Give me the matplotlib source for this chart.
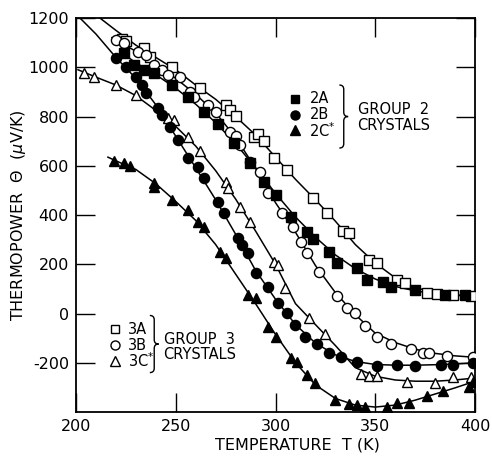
import numpy as np
import matplotlib
matplotlib.use("Agg")
import matplotlib.pyplot as plt
from matplotlib.path import Path
from matplotlib.patches import PathPatch

plt.rcParams['font.family'] = ['DejaVu Sans']

# measured points, temperature (K) and thermopower (uV/K)
t_2a = [224, 229, 234, 239, 248, 256, 264, 271, 279, 287, 294, 300, 308, 316, 319,
        327, 331, 341, 346, 354, 358, 370, 385, 395]
v_2a = [1058, 1010, 990, 978, 928, 879, 818, 770, 692, 611, 534, 481, 392, 331, 302,
        250, 205, 185, 136, 128, 108, 95, 75, 75]

t_2b = [220, 225, 230, 233, 235, 241, 243, 247, 251, 256, 261, 264, 271, 274, 281, 283,
        286, 290, 296, 301, 306, 310, 315, 321, 327, 333, 341, 351, 361, 370, 383, 389, 399]
v_2b = [1037, 1001, 960, 928, 895, 834, 806, 757, 705, 631, 595, 550, 453, 408, 307, 278,
        246, 164, 108, 43, 2, -47, -95, -124, -160, -177, -197, -213, -209, -213, -209, -209, -201]

t_2c = [219, 224, 227, 239, 239, 248, 256, 261, 264, 272, 275, 286, 290, 296, 300, 308,
        311, 316, 320, 330, 337, 341, 345, 356, 361, 367, 376, 384, 397, 399]
v_2c = [620, 613, 601, 532, 514, 461, 420, 372, 351, 250, 225, 75, 63, -55, -95, -181,
        -197, -250, -282, -352, -368, -372, -380, -380, -364, -364, -335, -315, -299, -278]

t_3a = [223, 225, 234, 237, 248, 262, 275, 277, 280, 289, 291, 294, 299, 306, 319, 326,
        334, 337, 347, 351, 361, 365, 376, 381, 389, 398]
v_3a = [1115, 1105, 1078, 1042, 1001, 916, 847, 826, 802, 717, 729, 700, 632, 583, 469, 408,
        335, 327, 217, 205, 136, 124, 83, 79, 75, 71]

t_3b = [220, 224, 231, 235, 239, 243, 246, 252, 257, 259, 266, 270, 277, 280, 282, 287,
        292, 296, 303, 309, 313, 316, 322, 331, 336, 340, 345, 351, 358, 368, 374, 377, 386, 399]
v_3b = [1110, 1097, 1062, 1050, 1009, 989, 968, 960, 900, 879, 847, 818, 737, 721, 684, 615,
        575, 489, 408, 351, 290, 245, 168, 72, 22, 2, -51, -95, -124, -144, -160, -160, -173, -177]

t_3c = [204, 209, 220, 230, 246, 249, 256, 262, 275, 276, 282, 287, 299, 301, 305, 317,
        325, 343, 347, 351, 366, 380, 389, 398]
v_3c = [977, 960, 928, 889, 794, 786, 717, 660, 534, 510, 432, 372, 209, 197, 104, -18,
        -83, -246, -254, -254, -278, -282, -258, -258]

# drawn guide curves
fit_t_2a = [222, 230, 240, 250, 260, 270, 280, 290, 300, 310, 320, 330, 340, 350, 360, 370, 380, 390, 400]
fit_v_2a = [1065, 1018, 970, 915, 850, 775, 690, 592, 488, 392, 310, 238, 182, 140, 110, 92, 80, 74, 70]

fit_t_2b = [202, 210, 220, 230, 240, 250, 260, 270, 280, 290, 300, 310, 320, 330, 340, 350, 360, 370, 380, 390, 400]
fit_v_2b = [1200, 1135, 1040, 955, 848, 720, 592, 462, 322, 175, 58, -45, -120, -168, -195, -207, -210, -210, -208, -205, -200]

fit_t_2c = [216, 220, 230, 240, 250, 260, 270, 280, 290, 300, 310, 320, 330, 340, 350, 360, 370, 380, 390, 400]
fit_v_2c = [635, 620, 585, 527, 455, 378, 280, 160, 40, -85, -200, -290, -345, -372, -380, -372, -352, -327, -302, -275]

fit_t_3a = [212, 220, 230, 240, 250, 260, 270, 280, 290, 300, 310, 320, 330, 340, 350, 360, 370, 380, 390, 400]
fit_v_3a = [1200, 1150, 1090, 1040, 990, 928, 870, 800, 725, 635, 545, 462, 375, 280, 205, 145, 105, 85, 75, 70]

fit_t_3b = [218, 230, 240, 250, 260, 270, 280, 290, 300, 310, 320, 330, 340, 350, 360, 370, 380, 390, 400]
fit_v_3b = [1120, 1065, 1010, 955, 890, 815, 715, 590, 450, 330, 195, 85, -5, -80, -118, -145, -162, -172, -178]

fit_t_3c = [201, 210, 220, 230, 240, 250, 260, 270, 280, 290, 300, 310, 320, 330, 340, 350, 360, 370, 380, 390, 400]
fit_v_3c = [990, 960, 928, 885, 825, 760, 680, 580, 465, 335, 200, 40, -45, -130, -220, -255, -270, -275, -275, -270, -262]

x_ticks = [200, 250, 300, 350, 400]
y_ticks = [-200, 0, 200, 400, 600, 800, 1000, 1200]


def draw_brace(ax, x, y_top, y_bot, w):
    """Draws a '}' shaped brace in axes fraction coordinates."""
    ym = (y_top + y_bot) / 2
    h = w / 2
    verts = [
        (x, y_top), (x + h, y_top), (x + h, y_top - h),
        (x + h, ym + h), (x + h, ym), (x + w, ym),
        (x + h, ym), (x + h, ym - h),
        (x + h, y_bot + h), (x + h, y_bot), (x, y_bot),
    ]
    codes = [
        Path.MOVETO, Path.CURVE3, Path.CURVE3,
        Path.LINETO, Path.CURVE3, Path.CURVE3,
        Path.CURVE3, Path.CURVE3,
        Path.LINETO, Path.CURVE3, Path.CURVE3,
    ]
    patch = PathPatch(Path(verts, codes), fill=False, lw=1.0, color="black",
                      transform=ax.transAxes, clip_on=False)
    ax.add_patch(patch)


def main():
    fig = plt.figure(figsize=(4.92, 4.57), dpi=100)
    ax = fig.add_axes([0.1545, 0.0985, 0.811, 0.862])

    for ft, fv in [(fit_t_2a, fit_v_2a), (fit_t_2b, fit_v_2b), (fit_t_2c, fit_v_2c),
                   (fit_t_3a, fit_v_3a), (fit_t_3b, fit_v_3b), (fit_t_3c, fit_v_3c)]:
        ax.plot(ft, fv, "-", color="black", lw=1.1, zorder=2)

    ms = 7.3
    ax.plot(t_3a, v_3a, "s", ms=ms - 0.5, mfc="white", mec="black", mew=1.0, ls="none", zorder=3)
    ax.plot(t_3b, v_3b, "o", ms=ms, mfc="white", mec="black", mew=1.0, ls="none", zorder=3)
    ax.plot(t_3c, v_3c, "^", ms=ms, mfc="white", mec="black", mew=1.0, ls="none", zorder=3)
    ax.plot(t_2a, v_2a, "s", ms=ms - 0.5, mfc="black", mec="black", ls="none", zorder=4)
    ax.plot(t_2b, v_2b, "o", ms=ms, mfc="black", mec="black", ls="none", zorder=4)
    ax.plot(t_2c, v_2c, "^", ms=ms, mfc="black", mec="black", ls="none", zorder=4)

    ax.set_xlim(200, 400)
    ax.set_ylim(-400, 1200)
    ax.set_xticks(x_ticks)
    ax.set_yticks(y_ticks)
    ax.set_xticklabels([str(v) for v in x_ticks])
    ax.set_yticklabels([str(v) for v in y_ticks])
    ax.tick_params(direction="in", length=14, width=1.0, top=True, right=True,
                   labelsize=11.5, pad=5)
    for sp in ax.spines.values():
        sp.set_linewidth(1.3)

    ax.set_xlabel("TEMPERATURE  T (K)", fontsize=11.5)
    ax.xaxis.set_label_coords(0.554, -0.066)
    ax.set_ylabel(r"THERMOPOWER  $\Theta$  ($\mu$V/K)", fontsize=11.5)
    ax.yaxis.set_label_coords(-0.12, 0.5)

    # group 2 key
    key2_y = [0.795, 0.755, 0.715]
    ax.plot([0.55], [key2_y[0]], "s", ms=5.5, color="black", transform=ax.transAxes)
    ax.plot([0.55], [key2_y[1]], "o", ms=6.5, color="black", transform=ax.transAxes)
    ax.plot([0.55], [key2_y[2]], "^", ms=6.5, color="black", transform=ax.transAxes)
    for yy, lab in zip(key2_y, ["2A", "2B", "2C$^{*}$"]):
        ax.text(0.585, yy, lab, transform=ax.transAxes, fontsize=10.5, va="center")
    draw_brace(ax, 0.66, 0.83, 0.67, 0.022)
    ax.text(0.795, 0.768, "GROUP  2", transform=ax.transAxes, fontsize=10.5,
            ha="center", va="center")
    ax.text(0.795, 0.728, "CRYSTALS", transform=ax.transAxes, fontsize=10.5,
            ha="center", va="center")

    # group 3 key
    key3_y = [0.21, 0.17, 0.13]
    ax.plot([0.097], [key3_y[0]], "s", ms=5.5, mfc="white", mec="black", mew=1.0, transform=ax.transAxes)
    ax.plot([0.097], [key3_y[1]], "o", ms=6.5, mfc="white", mec="black", mew=1.0, transform=ax.transAxes)
    ax.plot([0.097], [key3_y[2]], "^", ms=6.5, mfc="white", mec="black", mew=1.0, transform=ax.transAxes)
    for yy, lab in zip(key3_y, ["3A", "3B", "3C$^{*}$"]):
        ax.text(0.13, yy, lab, transform=ax.transAxes, fontsize=10.5, va="center")
    draw_brace(ax, 0.185, 0.245, 0.10, 0.022)
    ax.text(0.31, 0.183, "GROUP  3", transform=ax.transAxes, fontsize=10.5,
            ha="center", va="center")
    ax.text(0.31, 0.145, "CRYSTALS", transform=ax.transAxes, fontsize=10.5,
            ha="center", va="center")

    fig.savefig("out.png", dpi=100)


if __name__ == "__main__":
    main()
